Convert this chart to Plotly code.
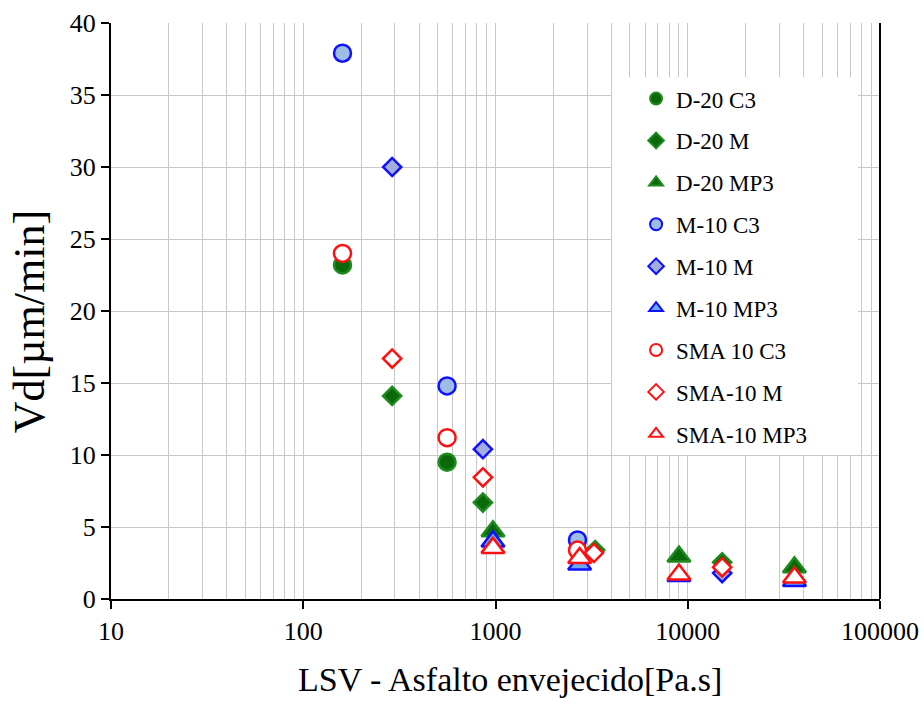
import plotly.graph_objects as go

# Aged-binder viscosity (LSV, Pa.s) vs. deformation rate Vd (µm/min)
d20_c3_x = [160, 560]
d20_c3_y = [23.2, 9.5]
d20_m_x = [290, 860, 3300, 15100]
d20_m_y = [14.1, 6.7, 3.4, 2.55]
d20_mp3_x = [970, 9000, 35900]
d20_mp3_y = [4.7, 2.95, 2.2]

m10_c3_x = [160, 560, 2670]
m10_c3_y = [37.9, 14.8, 4.1]
m10_m_x = [290, 860, 15100]
m10_m_y = [30.0, 10.4, 1.8]
m10_mp3_x = [970, 2740, 9000, 35900]
m10_mp3_y = [4.0, 2.4, 1.6, 1.25]

sma_c3_x = [160, 560, 2670]
sma_c3_y = [24.0, 11.2, 3.4]
sma_m_x = [290, 860, 3250, 15100]
sma_m_y = [16.7, 8.45, 3.2, 2.2]
sma_mp3_x = [970, 2740, 9000, 35900]
sma_mp3_y = [3.55, 2.85, 1.7, 1.5]

x_tickvals = [10, 100, 1000, 10000, 100000]
x_ticktext = ["10", "100", "1000", "10000", "100000"]
y_tickvals = [0, 5, 10, 15, 20, 25, 30, 35, 40]

x_title = "LSV - Asfalto envejecido[Pa.s]"
y_title = "Vd[µm/min]"

FONT = "Liberation Serif"
GREEN_FILL, GREEN_LINE = "#0a6a0a", "#1f8a1f"
BLUE_LINE = "#1010ff"
RED_LINE = "#ff1010"

series = [
    ("D-20 C3", d20_c3_x, d20_c3_y, "circle", 17, GREEN_FILL, GREEN_LINE),
    ("D-20 M", d20_m_x, d20_m_y, "diamond", 14, GREEN_FILL, GREEN_LINE),
    ("D-20 MP3", d20_mp3_x, d20_mp3_y, "triangle-up", 20, GREEN_FILL, GREEN_LINE),
    ("M-10 C3", m10_c3_x, m10_c3_y, "circle", 17, "#9dbde6", BLUE_LINE),
    ("M-10 M", m10_m_x, m10_m_y, "diamond", 14, "#a3aedc", BLUE_LINE),
    ("M-10 MP3", m10_mp3_x, m10_mp3_y, "triangle-up", 20, "#6aa8f0", BLUE_LINE),
    ("SMA 10 C3", sma_c3_x, sma_c3_y, "circle", 17, "white", RED_LINE),
    ("SMA-10 M", sma_m_x, sma_m_y, "diamond", 14, "white", RED_LINE),
    ("SMA-10 MP3", sma_mp3_x, sma_mp3_y, "triangle-up", 20, "white", RED_LINE),
]

fig = go.Figure()
for i, (name, xs, ys, sym, size, fill, line) in enumerate(series):
    fig.add_trace(go.Scatter(
        x=xs, y=ys, mode="markers", name=name, legendgroup=f"g{i}",
        marker=dict(symbol=sym, size=size, color=fill,
                    line=dict(color=line, width=2.5)),
    ))

grid = "#c8c8c8"
fig.update_layout(
    width=924, height=704,
    margin=dict(l=111, r=44, t=23, b=105),
    paper_bgcolor="white", plot_bgcolor="white",
    font=dict(family=FONT, color="black"),
    showlegend=True,
    legend=dict(
        x=0.6828, y=0.906, xanchor="left", yanchor="top",
        bgcolor="rgba(0,0,0,0)", borderwidth=0,
        font=dict(family=FONT, size=23, color="black"),
        tracegroupgap=9, itemsizing="constant",
    ),
    xaxis=dict(
        type="log", range=[1, 5], automargin=False,
        tickvals=x_tickvals, ticktext=x_ticktext,
        tickfont=dict(family=FONT, size=26, color="black"),
        ticks="outside", ticklen=8, tickcolor="black", tickwidth=1.5,
        showline=True, linecolor="black", linewidth=2,
        showgrid=True, gridcolor=grid, gridwidth=1,
        minor=dict(dtick="D1", showgrid=True, gridcolor=grid, gridwidth=1, ticks=""),
        zeroline=False,
    ),
    yaxis=dict(
        range=[0, 40], tickvals=y_tickvals, automargin=False,
        tickfont=dict(family=FONT, size=26, color="black"),
        ticks="outside", ticklen=8, tickcolor="black", tickwidth=1.5,
        showline=True, linecolor="black", linewidth=2,
        showgrid=True, gridcolor=grid, gridwidth=1,
        zeroline=False,
    ),
    annotations=[
        dict(text=x_title, xref="paper", yref="paper", x=0.519, y=-0.1406,
             xanchor="center", yanchor="middle", showarrow=False,
             font=dict(family=FONT, size=34, color="black")),
        dict(text=y_title, xref="paper", yref="paper", x=-0.1049, y=0.481,
             xanchor="center", yanchor="middle", showarrow=False, textangle=-90,
             font=dict(family=FONT, size=44, color="black")),
    ],
    shapes=[
        # white panel behind the legend, covering the grid there
        dict(type="rect", xref="paper", yref="paper",
             x0=0.6516, x1=0.9714, y0=0.25, y1=0.906,
             fillcolor="white", line=dict(width=0), layer="above"),
        # right-hand frame line
        dict(type="line", xref="paper", yref="paper",
             x0=1, x1=1, y0=0, y1=1, line=dict(color="black", width=2),
             layer="above"),
    ],
)

fig.write_html("out.html")
